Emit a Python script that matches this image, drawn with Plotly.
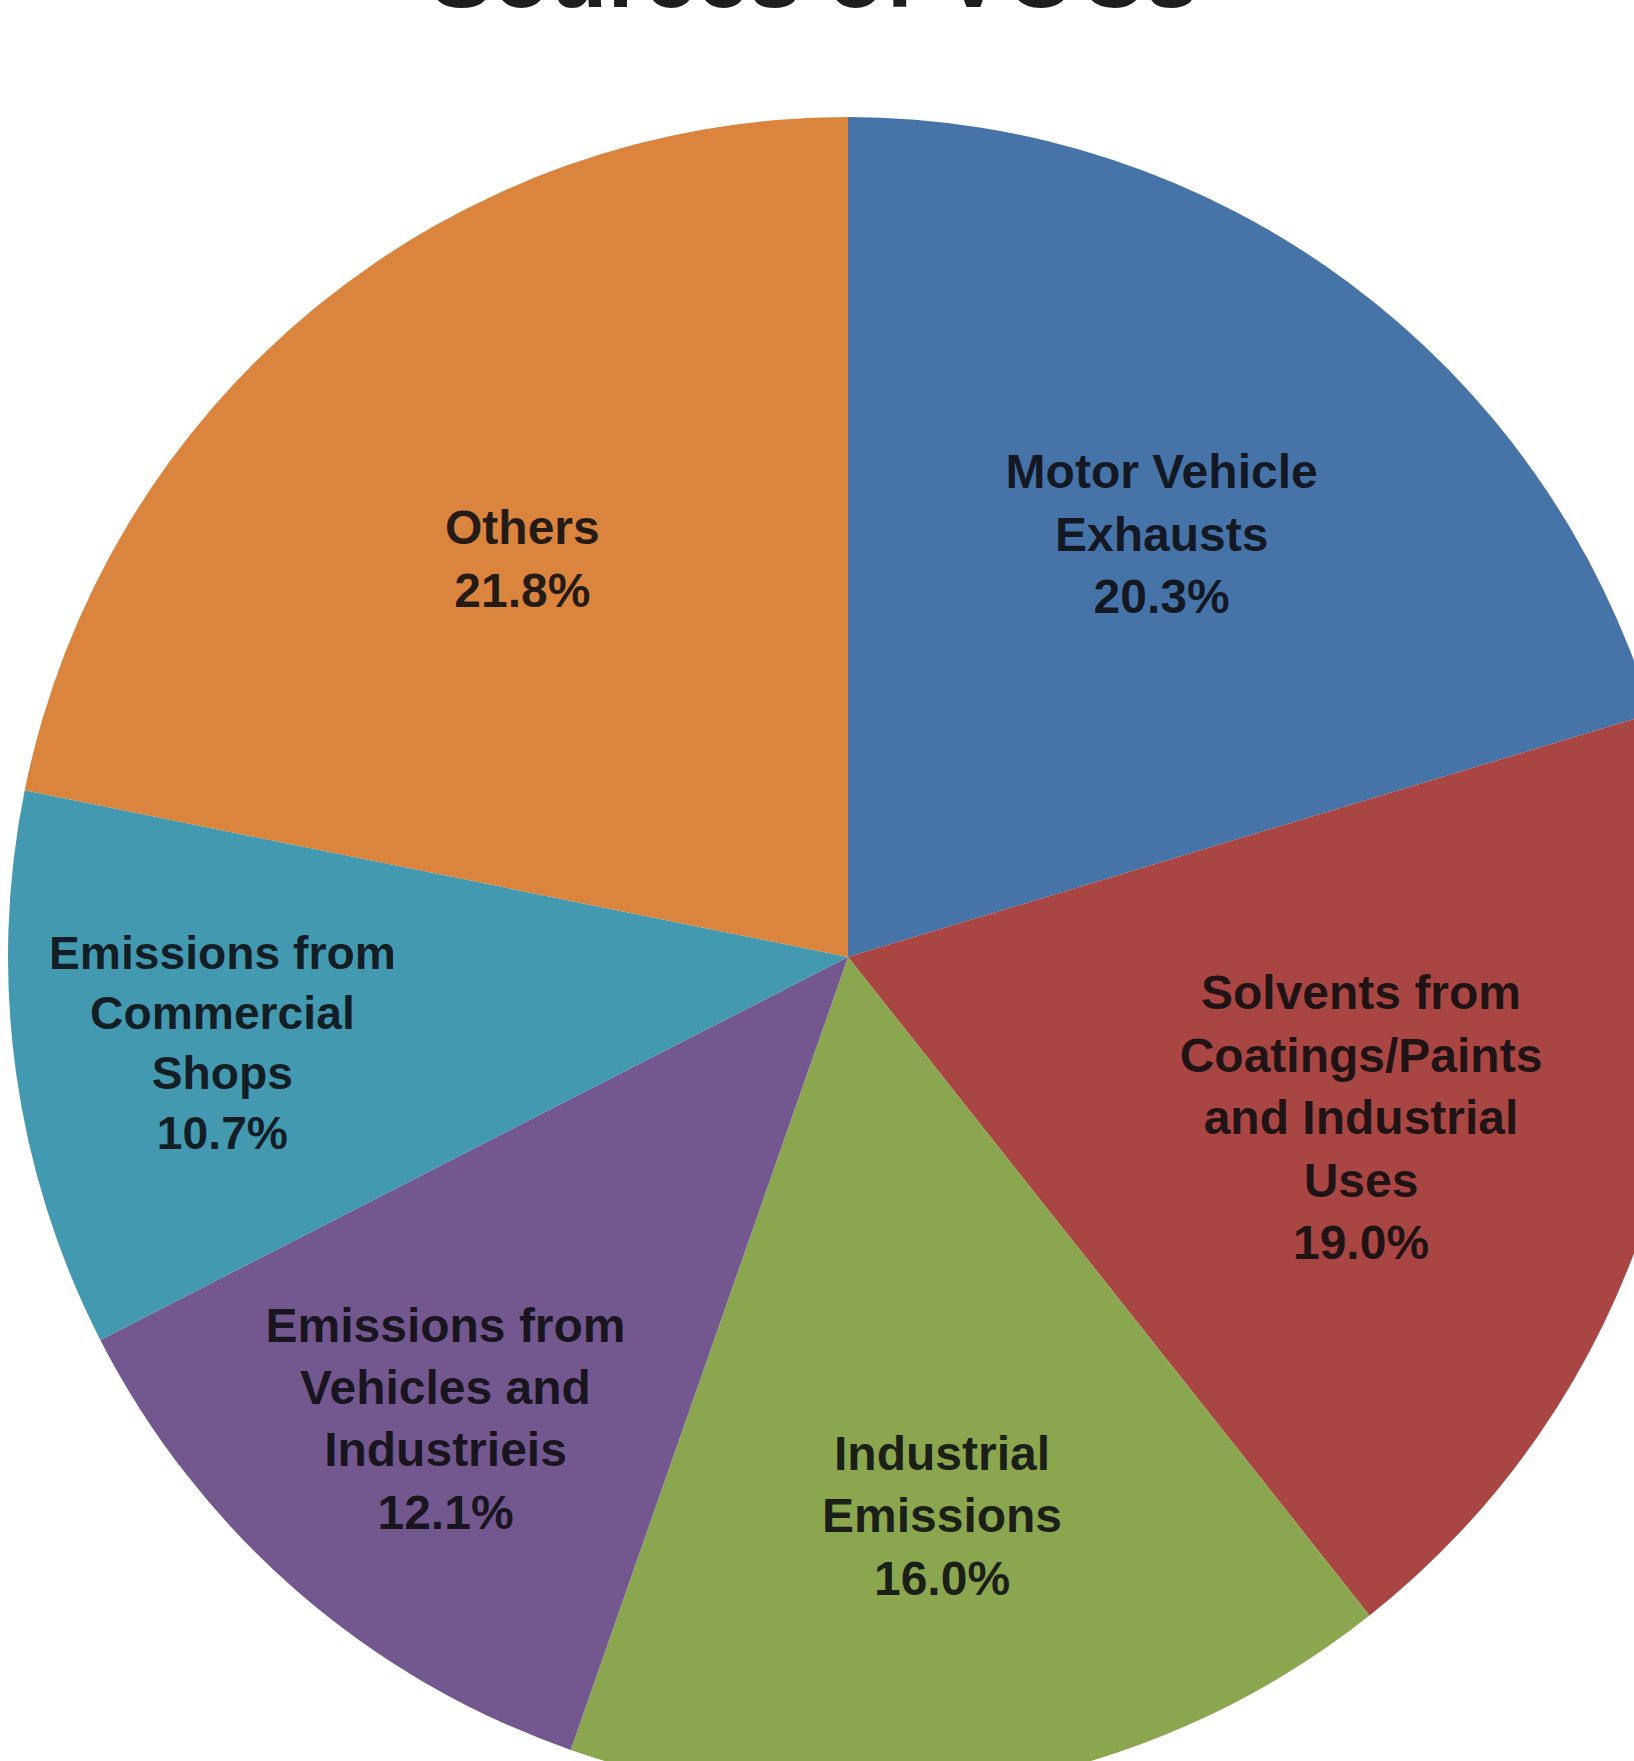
import plotly.graph_objects as go

# ---- data ----
categories = [
    "Motor Vehicle<br>Exhausts",
    "Solvents from<br>Coatings/Paints<br>and Industrial<br>Uses",
    "Industrial<br>Emissions",
    "Emissions from<br>Vehicles and<br>Industrieis",
    "Emissions from<br>Commercial<br>Shops",
    "Others",
]
shares = [20.3, 19.0, 16.0, 12.1, 10.7, 21.8]
slice_colors = ["#4673A8", "#A94643", "#8AA64E", "#72588E", "#4399B0", "#DA843E"]
title_text = "Sources of VOCs"

# ---- geometry of the (partly cropped) figure ----
R = 840            # pie radius in px
CX, CY = 848, 957  # pie centre in window px
M_L = CX - R
M_T = CY - R
W = M_L + 2 * R
H = M_T + 2 * R

fig = go.Figure(
    go.Pie(
        labels=categories,
        values=shares,
        text=[f"{c}<br>{v:.1f}%" for c, v in zip(categories, shares)],
        textinfo="text",
        textposition="inside",
        insidetextorientation="horizontal",
        sort=False,
        direction="clockwise",
        rotation=0,
        marker=dict(colors=slice_colors, line=dict(width=0)),
        insidetextfont=dict(family="Liberation Sans", size=48, weight="bold",
                            color="rgba(12,12,16,0.88)"),
        hoverinfo="label+percent",
        showlegend=False,
    )
)

title_bottom_px = 29
fig.add_annotation(
    text=f"<b>{title_text}</b>",
    xref="paper", yref="paper",
    x=(814 - M_L) / (2 * R), y=1 + (M_T - title_bottom_px) / (2 * R),
    xanchor="center", yanchor="bottom",
    showarrow=False,
    font=dict(family="Liberation Sans", size=94, color="#1e1e1e"),
)

fig.update_layout(
    width=W, height=H,
    margin=dict(l=M_L, r=0, t=M_T, b=0, pad=0, autoexpand=False),
    paper_bgcolor="white",
    plot_bgcolor="white",
)

fig.write_html(
    "out.html",
    post_script=(
        "document.body.style.margin='0';"
        "document.body.style.overflow='hidden';"
        "document.documentElement.style.overflow='hidden';"
    ),
)
